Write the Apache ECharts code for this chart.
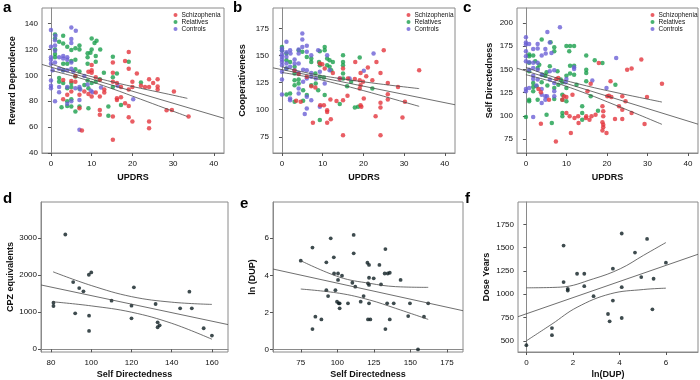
<!DOCTYPE html>
<html>
<head>
<meta charset="utf-8" />
<title>UPDRS, temperament and treatment scatter panels</title>
<script src="https://cdn.jsdelivr.net/npm/echarts@6/dist/echarts.min.js"></script>
<style>html,body{margin:0;padding:0;background:#fff}</style>
</head>
<body>
<div id="main" style="width:700px;height:380px"></div>
<script>
// ---- panel a: Reward Dependence vs UPDRS ----
var aSchizo = [[19.1,118],[18.2,111],[19.1,105],[21.1,101.5],[15.2,110],[15.2,102],[10,104],[10,102],[11,98.5],[12,96.4],[13.1,89],[15.2,95],[16.2,94],[17.2,91],[19.1,89],[20,91],[20,95],[22.1,92],[23.1,91],[24.1,97],[25.1,94],[26.2,97],[26.2,89],[30.2,87.5],[24.1,91],[26.2,91.3],[7,85],[8.2,87.6],[9.2,85.6],[10,83.6],[11,86.7],[12,83.6],[13.1,86.7],[16.2,82.3],[16.2,81],[18.2,78.5],[19.1,76.4],[12,73.3],[12,69.5],[15.2,68.2],[19.1,67.7],[20,64.4],[24.1,64.4],[24.1,59.2],[28.4,73],[29.7,73.3],[33.8,68.2],[15.2,50.3],[7.6,57.4],[3,81.5],[4,85],[5,87.5],[5,95.6],[6,95],[3,96.4],[6,99.5],[7,74.6],[10,108],[9.2,102.8],[17.2,83]];
var aRel = [[1,131.5],[1,128.5],[3,130.5],[2,126],[3,124.6],[1,120],[1,116.4],[1,114],[7,123],[7,120],[6,121],[9,117],[9.7,117.4],[9,114],[9,109],[10,128.5],[10.7,125],[11.2,126.7],[12.1,120],[11,115],[11,110.5],[4,122],[5,119.5],[6,112],[5,111],[3,109],[4,109],[3,104],[6,104.6],[7,103],[6,99],[2,98],[2,95],[3,94],[5,94],[4,90],[5,91],[7,89.7],[8.2,92.6],[9.2,90],[10,94],[11,95],[12,97],[13,102],[15.2,114.4],[15.2,98.5],[16.2,101.5],[17.2,77],[15.2,91],[14.1,76],[14.1,68.7],[19.1,110.5],[22.1,94.4],[5,81.5],[4,80],[4,76.4],[5,76],[6,72],[9.2,74.6],[7,76],[2.6,75.4],[10,120],[9,96]];
var aCtrl = [[0,135],[5,137],[6.1,134.4],[1.1,130.5],[1,127],[0,122],[1,123],[5,128],[5,125],[1,119],[0,114],[0,112],[2,114],[3,115],[3,113],[4,114],[4,112],[5,110],[1,110],[0,109],[0.4,104],[2,105],[3,104],[4,104],[5,105],[5.5,103],[0,96],[0,92],[0,90],[2,91],[2,87],[4,91],[6,90],[7,91],[7.2,89],[1,80],[5,80],[4,78],[7,81],[7,58],[9.8,88],[10.2,87],[12.3,90.5],[16.4,92],[20.2,81.5],[9,93],[8.2,99.5]];
var aFit = [[-2.2,108.4],[42.5,66.8]];
var aUpper = [[0,108.8],[7,101.6],[15,95],[22,90],[28,86],[33.5,82.2]];
var aLower = [[0,103.8],[7,98],[15,89.7],[22,81.6],[28,74.6],[33.5,68.2]];

// ---- panel b: Cooperativeness vs UPDRS ----
var bSchizo = [[25,155],[18,144.2],[23.2,144.2],[21.1,139],[24.2,134],[20.7,131],[19.3,134],[15,138],[9.3,142.7],[9.9,142],[10.5,138],[12.5,134],[14.2,128.8],[16.2,128.8],[17.9,128.5],[19.1,127.3],[19.9,125.8],[22.2,127.3],[26,124.8],[19.3,122.7],[19.1,119.6],[26,114.4],[26,109.5],[28.5,121],[24.2,106.4],[24.2,102],[30.2,107.3],[33.7,136.5],[20.1,110.4],[19.3,104.2],[19.5,102.7],[16.1,112.8],[15,108.8],[13.4,108],[11.9,109.5],[11.1,99.6],[11.1,98],[12,91.3],[11.1,88],[7.6,88],[23,94],[29.6,92.8],[15,76.5],[24.2,76.5],[3.5,108.2],[4.6,107.3],[3.1,136],[4.1,133],[6.1,130.4],[9.4,104.2],[10.3,104.2],[7.2,121.8],[8.2,120.5]];
var bRel = [[0,158],[0,155],[1.1,152],[1.1,145.8],[1.1,138],[2,144.2],[3.1,139.6],[4.1,155],[5,153.5],[6.1,148.8],[7.2,147.3],[7.2,144.2],[9.3,154],[9.1,144.2],[9.3,141],[9.3,130.4],[10.3,129.8],[10.5,158],[10.5,155],[11.1,147.3],[11.1,141],[11.7,145.8],[11.7,139.6],[12.5,144.2],[12.1,136.5],[15,150.4],[15,144.2],[15,141],[15,133.5],[15,128.8],[16,121.8],[17,125.8],[19.1,148.2],[17.9,102],[18.7,102.7],[22.2,119.6],[14.2,105.2],[9.3,90.4],[3.1,133.5],[3.1,127.3],[3.1,122.7],[4.1,128],[2,115],[1.1,114],[3.1,107.3],[5.2,108.2],[6.1,113.5],[4.1,124.2],[7.2,122.7],[8.3,124.2],[8.9,118],[10.5,113.5],[8.2,133.5],[5.2,118]];
var bCtrl = [[5,170.4],[5,165],[1.1,162.7],[6.1,159],[5,158],[0,156.5],[0,154.4],[0,151],[0,149],[0,146.4],[1.1,153],[1.1,149],[2,155],[3.1,146.4],[4.1,155.6],[4.1,152],[6.1,153.5],[7.2,150.4],[8.9,155],[0,144],[0,141],[0,135],[0,128],[0,114],[1.1,142.7],[1.1,138],[2,139.6],[3.1,142.7],[3.1,136.5],[4.1,142.7],[4.1,134],[5.2,137],[6.1,136.5],[7.2,134],[6.1,128.8],[7.2,130.4],[5.2,125.8],[4.1,119.6],[2,110.4],[2,108.8],[4.1,115],[6.1,112],[6.1,101.2],[7.2,108.8],[9.3,102.7],[5.6,96],[8.3,128.8],[9.3,135],[11.1,150.4],[11.7,136.5],[14.2,128.8],[16.6,128.8],[20.1,136],[22.5,152],[10.5,124.2],[2.1,152]];
var bFit = [[-2.2,138.7],[42.5,104.6]];
var bUpper = [[0,139.6],[7,133.4],[15,128.4],[22,124.8],[28,122],[33.7,119.5]];
var bLower = [[0,134.4],[7,129.8],[15,122.6],[22,115.6],[28,109.2],[33.7,103.1]];

// ---- panel c: Self Directedness vs UPDRS ----
var cSchizo = [[28.5,160.5],[18,156.9],[25,149.7],[26.1,150.8],[20.9,137.1],[20.5,121.7],[20.1,121],[21.1,120.3],[23.8,121],[29.9,120.3],[33.6,134.6],[24.6,115.6],[23,110.2],[23.8,106.6],[26.1,103],[18.9,110.2],[19.1,104.8],[19.1,99.6],[18.9,93],[19.1,90.4],[19.1,87.6],[18.9,84.3],[19.9,81.5],[22,96.6],[23.8,96.6],[29.3,91.2],[17.2,101.2],[16.2,99.6],[15.7,95.8],[14.8,97.6],[14.9,99.6],[12.9,99.6],[12,97.6],[13,92.3],[10,103],[10.8,99.6],[11.1,81.5],[9.4,121],[10,120.3],[9,117.4],[11.5,122.8],[7.5,139.7],[7.4,72.5],[3.7,91.5],[3.1,128.9],[3.7,125.3],[5.7,117.4],[16,134.6],[15.2,126.4],[8,140.7]];
var cRel = [[0,98.7],[0.8,148],[0.8,117.4],[0.8,115.6],[1.8,131],[1.8,135.3],[1.8,126.4],[0.8,165.9],[0.8,157],[0.8,164],[1.8,164.8],[2.3,158.7],[3.3,155],[2.9,151.5],[3.9,182],[6.1,179.2],[7,173.8],[7,169.5],[5.9,153.3],[5.1,146.8],[4.8,143.2],[4.1,144.3],[2.9,117.4],[3.9,136],[2.6,131.8],[5.1,101.2],[6.4,92.3],[7,118.1],[7,130],[8,133.5],[9,136],[9,122.8],[9,117.4],[9,103],[9,99.6],[10,175],[10,143.2],[10,130],[10,115.6],[10.7,169.5],[10.9,175],[11.9,175],[10.9,154],[11.9,154],[11.9,144.3],[10.9,145.4],[12.5,133.5],[13.9,110.2],[13.9,103],[13.9,95.8],[14.9,164.8],[14.9,149.7],[14.9,146],[14.9,137.1],[16,121],[17,159.8],[18.9,156.9],[17.8,105.5],[22.1,133.5],[8.6,139],[7.8,148],[5.3,132.5]];
var cCtrl = [[8.4,195.3],[5.3,190.3],[0,184.6],[0,179],[0,176.7],[0.8,177.4],[2.9,177.4],[2.9,172.3],[1.8,172],[4.8,172],[5.9,179],[6.3,167.7],[4.9,167],[3.9,164.8],[0,169.5],[0,164],[0,158.7],[0.8,157.6],[1.8,157],[2.9,157],[0.8,149.7],[1.8,151.5],[2.9,149.7],[1.8,143.2],[3.9,144.3],[5.9,148],[7,149],[5.9,139],[7,135.3],[3.9,128.9],[0,128.9],[0,126.4],[0.8,130],[2.9,139],[1.8,139.7],[3.9,122.8],[4.8,121],[3.9,113.8],[4.8,117.4],[7,126.4],[7,121],[10,139.7],[9.8,136],[11.9,152.2],[11.9,150.4],[16.4,137.9],[19.9,130],[22.3,162.3],[1.8,98.7],[5.2,121],[2.6,132.5]];
var cFit = [[-2.2,151.2],[42.5,91]];
var cUpper = [[0,152.2],[7,141.5],[15,132.2],[22,125.3],[28,119.8],[33.6,114.8]];
var cLower = [[0,144.2],[7,136],[15,123.8],[22,111.7],[28,101],[33.6,90.8]];

// ---- panel d: CPZ equivalents vs Self Directedness ----
var dPts = [[87.1,3098],[91,1814],[94,1652],[96.1,1562],[81.2,1257],[81.2,1167],[92,970],[98.8,2011],[100,2074],[98.9,907],[98.9,494],[110.1,1311],[121.2,1670],[120,1176],[120,835],[132,1221],[133,727],[133,593],[134,646],[144.2,1104],[148.8,1553],[150,1104],[155.9,566],[160,368]];
var dFit = [[75,1735],[168,665]];
var dUpper = [[81,2090],[100,1720],[120,1420],[140,1270],[160,1210]];
var dLower = [[81,1280],[100,1170],[120,1000],[140,700],[160,270]];

// ---- panel e: ln(DUP) vs Self Directedness ----
var ePts = [[75,4.79],[83,5.5],[83,1.1],[85,1.77],[89.1,1.62],[92.5,4.7],[92.5,3.2],[93.7,2.88],[95.5,6],[97.6,4.97],[97.8,4.1],[98.7,3.2],[99.8,2.58],[100.5,4.1],[100.5,3.75],[101,2.49],[101.6,2.49],[101.6,2.22],[103.2,3.98],[107.3,2.49],[110.3,3.6],[111.2,6.18],[111.2,5.19],[112.3,3.39],[116,2.58],[118,2.88],[120.6,4.68],[121.7,4.56],[121,3.57],[121.7,3.48],[121.7,3.87],[121.7,2.49],[121,1.62],[122.6,1.62],[124.9,3.84],[128.8,4.56],[129.9,3.51],[132.4,4.1],[132.9,5.42],[132.9,1.1],[134.5,4.1],[135.9,4.14],[134.1,2.49],[135.9,1.62],[138.6,2.49],[143.3,3.75],[148.5,1.8],[149.7,2.49],[159.3,1.77],[162.2,2.49],[155.2,0]];
var eFit = [[56,4.34],[186,2.09]];
var eUpper = [[75,4.79],[101.6,3.9],[122,3.57],[139.8,3.39],[162.2,3.35]];
var eLower = [[75,3.26],[101.6,3.03],[122,2.67],[139.8,2.22],[162.2,1.62]];

// ---- panel f: Dose Years vs ln(DUP) ----
var fPts = [[0,453],[1.1,637],[1.1,561],[1.6,1522],[1.6,1130],[1.78,1058],[1.78,1040],[2.18,1220],[2.49,1220],[2.49,1087],[2.89,979],[3.51,788],[3.58,709],[3.72,1274],[3.72,932],[4.1,1652],[4.1,1076],[4.1,745],[4.67,1447],[4.94,1184],[5.19,1594],[5.42,838],[5.47,1166],[6,1339]];
var fFit = [[-0.36,759],[7.38,1429]];
var fUpper = [[0,1069],[1.46,1076],[2.89,1166],[4.04,1274],[5.04,1418],[6,1555]];
var fLower = [[0,500],[1.1,680],[2.18,860],[3.61,1004],[5.04,1051],[6,1065]];

// tick values
var updrsTicks = [0, 10, 20, 30, 40];
var aYTicks = [40, 60, 80, 100, 120, 140];
var bYTicks = [75, 100, 125, 150, 175];
var cYTicks = [75, 100, 125, 150, 175, 200];
var dXTicks = [80, 100, 120, 140, 160];
var dYTicks = [0, 1000, 2000, 3000];
var eXTicks = [75, 100, 125, 150, 175];
var eYTicks = [0, 2, 4, 6];
var fXTicks = [0, 2, 4, 6];
var fYTicks = [500, 750, 1000, 1250, 1500, 1750];

var groupNames = ["Schizophenia", "Relatives", "Controls"];

var RED = "#e3363d", GREEN = "#1a9f4c", BLUE = "#6b60d6", INK = "#0e1e22";
var FONT = "Liberation Sans";

var panels = [
  { box: [42, 8, 182, 145], x: [-2.2, 42.5], xt: updrsTicks, y: [40, 152], yt: aYTicks, xn: "UPDRS", yn: "Reward Dependence", xg: 20, yg: 25 },
  { box: [273, 8, 182, 145], x: [-2.2, 42.5], xt: updrsTicks, y: [60, 194], yt: bYTicks, xn: "UPDRS", yn: "Cooperativeness", xg: 20, yg: 26 },
  { box: [517, 8, 181, 145], x: [-2.2, 42.5], xt: updrsTicks, y: [60, 216], yt: cYTicks, xn: "UPDRS", yn: "Self Directedness", xg: 20, yg: 23 },
  { box: [41, 202, 187, 150], x: [75, 168], xt: dXTicks, y: [-75, 3975], yt: dYTicks, xn: "Self Directedness", yn: "CPZ equivalents", xg: 18, yg: 23 },
  { box: [273, 202, 190, 150], x: [56, 186], xt: eXTicks, y: [-0.14, 7.96], yt: eYTicks, xn: "Self Directedness", yn: "ln (DUP)", xg: 18, yg: 16 },
  { box: [518, 202, 180, 150], x: [-0.36, 7.38], xt: fXTicks, y: [380, 1990], yt: fYTicks, xn: "ln(DUP)", yn: "Dose Years", xg: 18, yg: 27 }
];

function plain(v) { return String(v); }

var grids = [], xAxes = [], yAxes = [];
panels.forEach(function (p) {
  grids.push({ left: p.box[0], top: p.box[1], width: p.box[2], height: p.box[3], show: true, borderColor: "#8a8a8a", borderWidth: 1 });
  var common = {
    type: "value",
    gridIndex: grids.length - 1,
    nameLocation: "middle",
    nameTextStyle: { fontFamily: FONT, fontSize: 9, fontWeight: "bold", color: "#111" },
    axisLine: { show: true, lineStyle: { color: "#8a8a8a", width: 1 } },
    splitLine: { show: false }
  };
  xAxes.push(Object.assign({}, common, {
    min: p.x[0], max: p.x[1], name: p.xn, nameGap: p.xg,
    axisTick: { show: true, length: 3, customValues: p.xt, lineStyle: { color: "#555" } },
    axisLabel: { customValues: p.xt, formatter: plain, margin: 7, fontFamily: FONT, fontSize: 8, color: "#111" }
  }));
  yAxes.push(Object.assign({}, common, {
    min: p.y[0], max: p.y[1], name: p.yn, nameGap: p.yg,
    axisTick: { show: true, length: 3, customValues: p.yt, lineStyle: { color: "#555" } },
    axisLabel: { customValues: p.yt, formatter: plain, margin: 4, fontFamily: FONT, fontSize: 8, color: "#111" }
  }));
});

function dots(name, data, gi, color, size) {
  return { type: "scatter", name: name, xAxisIndex: gi, yAxisIndex: gi, data: data,
    symbolSize: size, itemStyle: { color: color }, z: 2 };
}
function curve(data, gi, smooth) {
  return { type: "line", xAxisIndex: gi, yAxisIndex: gi, data: data, showSymbol: false,
    smooth: smooth ? 0.4 : false, lineStyle: { color: "#4a4a4a", width: 0.8 }, z: 3 };
}

var series = [];
[[aSchizo, aRel, aCtrl, aFit, aUpper, aLower],
 [bSchizo, bRel, bCtrl, bFit, bUpper, bLower],
 [cSchizo, cRel, cCtrl, cFit, cUpper, cLower]].forEach(function (s, gi) {
  series.push(dots(groupNames[1], s[1], gi, GREEN, 4.5));
  series.push(dots(groupNames[2], s[2], gi, BLUE, 4.5));
  series.push(dots(groupNames[0], s[0], gi, RED, 4.5));
  series.push(curve(s[3], gi, false), curve(s[4], gi, true), curve(s[5], gi, true));
});
[[dPts, dFit, dUpper, dLower], [ePts, eFit, eUpper, eLower], [fPts, fFit, fUpper, fLower]].forEach(function (s, k) {
  var gi = k + 3;
  series.push(dots("", s[0], gi, INK, 3.8));
  series.push(curve(s[1], gi, false), curve(s[2], gi, true), curve(s[3], gi, true));
});

function legendAt(left) {
  return { data: groupNames, orient: "vertical", left: left, top: 11.5, padding: 0, itemGap: 0,
    icon: "circle", itemWidth: 4, itemHeight: 4,
    textStyle: { fontFamily: FONT, fontSize: 6.5, lineHeight: 7, color: "#111", padding: [0, 0, 0, -1] } };
}

var letters = [["a", 3, 0], ["b", 233, 0], ["c", 463, 0], ["d", 3, 191], ["e", 240, 196], ["f", 465, 191]];

var chart = echarts.init(document.getElementById("main"));
chart.setOption({
  animation: false,
  backgroundColor: "#fff",
  grid: grids,
  xAxis: xAxes,
  yAxis: yAxes,
  legend: [legendAt(173.5), legendAt(406.5), legendAt(650.5)],
  graphic: letters.map(function (l) {
    return { type: "text", left: l[1], top: l[2], style: { text: l[0], font: "bold 15px " + FONT, fill: "#000" } };
  }),
  series: series
});
</script>
</body>
</html>
